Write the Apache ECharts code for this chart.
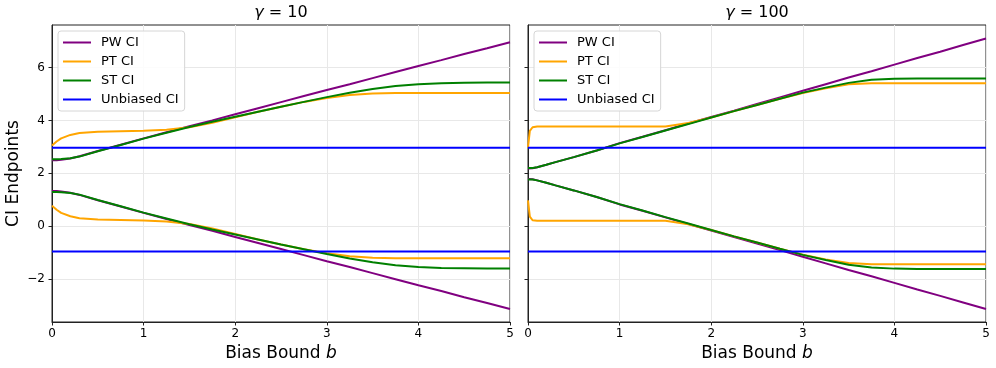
<!DOCTYPE html>
<html>
<head>
<meta charset="utf-8">
<script src="https://cdn.jsdelivr.net/npm/echarts@6/dist/echarts.min.js"></script>
<style>
  html, body { margin: 0; padding: 0; background: #fff; }
  #chart { width: 996px; height: 368px; }
</style>
</head>
<body>
<div id="chart"></div>
<script>
// bias bound b (shared x grid)
var xs = [0, 0.02, 0.05, 0.1, 0.2, 0.3, 0.5, 0.75, 1, 1.25, 1.5, 1.75, 2, 2.25, 2.5, 2.75, 3, 3.25, 3.5, 3.75, 4, 4.25, 4.5, 4.75, 5]

// gamma = 10
var pwUp10 = [2.49, 2.49, 2.49, 2.51, 2.56, 2.64, 2.84, 3.08, 3.32, 3.55, 3.78, 4.00, 4.23, 4.46, 4.69, 4.92, 5.15, 5.37, 5.60, 5.83, 6.06, 6.28, 6.51, 6.73, 6.96]
var pwLo10 = [1.33, 1.33, 1.33, 1.31, 1.26, 1.18, 0.98, 0.74, 0.50, 0.27, 0.04, -0.18, -0.41, -0.64, -0.87, -1.10, -1.33, -1.55, -1.78, -2.01, -2.24, -2.46, -2.69, -2.91, -3.14]
var ptUp10 = [3.05, 3.12, 3.20, 3.32, 3.45, 3.52, 3.57, 3.59, 3.61, 3.65, 3.74, 3.91, 4.12, 4.33, 4.52, 4.70, 4.85, 4.96, 5.02, 5.04, 5.04, 5.04, 5.04, 5.04, 5.04]
var ptLo10 = [0.77, 0.70, 0.62, 0.50, 0.37, 0.30, 0.25, 0.23, 0.21, 0.17, 0.08, -0.09, -0.30, -0.51, -0.70, -0.88, -1.03, -1.14, -1.20, -1.22, -1.22, -1.22, -1.22, -1.22, -1.22]
var stUp10 = [2.53, 2.53, 2.53, 2.54, 2.57, 2.63, 2.83, 3.07, 3.31, 3.53, 3.75, 3.95, 4.14, 4.33, 4.52, 4.70, 4.88, 5.05, 5.19, 5.30, 5.37, 5.41, 5.42, 5.43, 5.43]
var stLo10 = [1.29, 1.29, 1.29, 1.28, 1.25, 1.19, 0.99, 0.75, 0.51, 0.29, 0.07, -0.13, -0.32, -0.51, -0.70, -0.88, -1.06, -1.23, -1.37, -1.48, -1.55, -1.59, -1.60, -1.61, -1.61]

// gamma = 100
var pwUp100 = [2.18, 2.18, 2.19, 2.23, 2.32, 2.42, 2.61, 2.86, 3.14, 3.38, 3.63, 3.88, 4.13, 4.37, 4.62, 4.87, 5.12, 5.37, 5.62, 5.86, 6.11, 6.36, 6.60, 6.85, 7.10]
var pwLo100 = [1.78, 1.78, 1.77, 1.73, 1.64, 1.54, 1.35, 1.10, 0.82, 0.58, 0.33, 0.08, -0.17, -0.41, -0.66, -0.91, -1.16, -1.41, -1.66, -1.90, -2.15, -2.40, -2.64, -2.89, -3.14]
var ptUp100 = [2.99, 3.60, 3.74, 3.77, 3.77, 3.77, 3.77, 3.77, 3.77, 3.77, 3.77, 3.90, 4.11, 4.35, 4.58, 4.82, 5.04, 5.22, 5.37, 5.41, 5.41, 5.41, 5.41, 5.41, 5.41]
var ptLo100 = [0.97, 0.36, 0.22, 0.20, 0.20, 0.20, 0.20, 0.20, 0.20, 0.20, 0.20, 0.07, -0.15, -0.39, -0.62, -0.86, -1.08, -1.26, -1.40, -1.44, -1.44, -1.44, -1.44, -1.44, -1.44]
var stUp100 = [2.20, 2.20, 2.20, 2.23, 2.32, 2.42, 2.61, 2.86, 3.13, 3.37, 3.62, 3.86, 4.11, 4.35, 4.58, 4.82, 5.05, 5.24, 5.42, 5.54, 5.58, 5.59, 5.59, 5.59, 5.59]
var stLo100 = [1.76, 1.76, 1.76, 1.73, 1.64, 1.54, 1.35, 1.10, 0.83, 0.59, 0.34, 0.10, -0.15, -0.39, -0.62, -0.86, -1.09, -1.28, -1.46, -1.57, -1.61, -1.62, -1.62, -1.62, -1.62]

// unbiased CI (flat)
var ubX = [0, 5]
var ubUp = [2.96, 2.96]
var ubLo = [-0.96, -0.96]

var yTicks = [-2, 0, 2, 4, 6]
var legendNames = ['PW CI', 'PT CI', 'ST CI', 'Unbiased CI']
var FONT = 'DejaVu Sans'

var chart = echarts.init(document.getElementById('chart'), null, { renderer: 'canvas' })

function pairs(x, ys) {
  return x.map(function(v, i) { return [v, ys[i]] })
}

function line(name, color, data, gi) {
  return {
    name: name,
    type: 'line',
    xAxisIndex: gi,
    yAxisIndex: gi,
    data: data,
    symbol: 'none',
    showSymbol: false,
    smooth: false,
    color: color,
    lineStyle: { color: color, width: 2 },
    emphasis: { disabled: true },
    silent: true
  }
}

function panelSeries(gi, pwU, pwL, ptU, ptL, stU, stL) {
  return [
    line('PW CI', '#800080', pairs(xs, pwU), gi),
    line('PW CI', '#800080', pairs(xs, pwL), gi),
    line('PT CI', '#FFA500', pairs(xs, ptU), gi),
    line('PT CI', '#FFA500', pairs(xs, ptL), gi),
    line('ST CI', '#008000', pairs(xs, stU), gi),
    line('ST CI', '#008000', pairs(xs, stL), gi),
    line('Unbiased CI', '#0000FF', pairs(ubX, ubUp), gi),
    line('Unbiased CI', '#0000FF', pairs(ubX, ubLo), gi)
  ]
}

function minus(v) {
  return '{n|' + String(v).replace('-', '\u2212') + '}'
}

var tickRich = { n: { fontFamily: FONT, fontSize: 12, color: '#000' } }

function xAxis(gi) {
  return {
    type: 'value',
    gridIndex: gi,
    min: 0,
    max: 5,
    interval: 1,
    name: '{t|Bias Bound }{i|b}',
    nameLocation: 'middle',
    nameGap: 21,
    nameTextStyle: {
      rich: {
        t: { fontFamily: FONT, fontSize: 17, color: '#000' },
        i: { fontFamily: FONT, fontSize: 17, fontStyle: 'italic', color: '#000' }
      }
    },
    axisLine: { show: true, onZero: false, lineStyle: { color: '#222', width: 1 } },
    axisTick: { show: true, length: 3.5, lineStyle: { color: '#222' } },
    axisLabel: { color: '#000', fontFamily: FONT, fontSize: 12, margin: 6, formatter: minus, rich: tickRich },
    splitLine: { show: true, lineStyle: { color: '#e8e8e8', width: 1 } }
  }
}

function yAxis(gi, showLabels) {
  return {
    type: 'value',
    gridIndex: gi,
    min: -3.63,
    max: 7.61,
    name: showLabels ? 'CI Endpoints' : '',
    nameLocation: 'middle',
    nameGap: 30,
    nameTextStyle: { fontFamily: FONT, fontSize: 17, color: '#000' },
    axisLine: { show: true, onZero: false, lineStyle: { color: '#222', width: 1 } },
    axisTick: { show: true, length: 3.5, customValues: yTicks, lineStyle: { color: '#222' } },
    axisLabel: { show: showLabels, customValues: yTicks, color: '#000', fontFamily: FONT, fontSize: 12, margin: 7, formatter: minus, rich: tickRich },
    splitLine: { show: true, customValues: yTicks, lineStyle: { color: '#e8e8e8', width: 1 } }
  }
}

function legend(left) {
  return {
    data: legendNames,
    orient: 'vertical',
    left: left,
    top: 31,
    icon: 'rect',
    itemWidth: 28,
    itemHeight: 2,
    itemGap: 4,
    padding: [4, 6, 4, 5],
    backgroundColor: 'rgba(255,255,255,0.85)',
    borderColor: '#d6d6d6',
    borderWidth: 1,
    borderRadius: 3,
    selectedMode: false,
    formatter: '{s|}{a|{name}}',
    textStyle: {
      rich: {
        s: { width: 5 },
        a: { fontFamily: FONT, fontSize: 13, color: '#000', height: 15, lineHeight: 15 }
      }
    }
  }
}

function title(x, text) {
  return {
    type: 'text',
    x: x,
    y: 13,
    style: {
      text: text,
      fontFamily: FONT,
      fontSize: 16,
      fill: '#000',
      align: 'center',
      verticalAlign: 'middle',
      rich: {
        i: { fontFamily: FONT, fontSize: 16, fontStyle: 'italic' }
      }
    }
  }
}

chart.setOption({
  animation: false,
  backgroundColor: '#fff',
  grid: [
    { left: 52, right: 486, top: 25, bottom: 46, show: true, borderColor: '#222', borderWidth: 1, containLabel: false },
    { left: 528, right: 10, top: 25, bottom: 46, show: true, borderColor: '#222', borderWidth: 1, containLabel: false }
  ],
  xAxis: [xAxis(0), xAxis(1)],
  yAxis: [yAxis(0, true), yAxis(1, false)],
  legend: [legend(58), legend(534)],
  graphic: [title(281, '{i|\u03b3} = 10'), title(757, '{i|\u03b3} = 100')],
  series: panelSeries(0, pwUp10, pwLo10, ptUp10, ptLo10, stUp10, stLo10)
    .concat(panelSeries(1, pwUp100, pwLo100, ptUp100, ptLo100, stUp100, stLo100))
})
</script>
</body>
</html>
